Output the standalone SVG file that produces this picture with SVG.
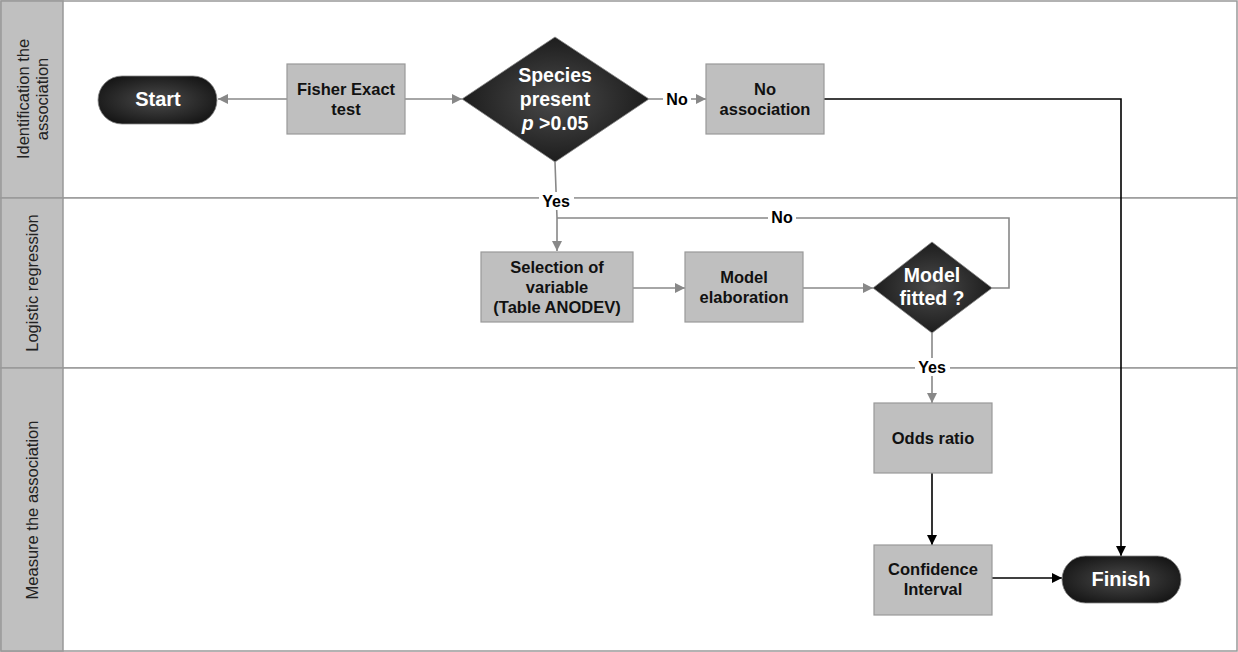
<svg xmlns="http://www.w3.org/2000/svg" width="1238" height="652" viewBox="0 0 1238 652">
<defs>
<radialGradient id="dk" cx="50%" cy="50%" r="60%">
<stop offset="0" stop-color="#4a4a4a"/>
<stop offset="1" stop-color="#141414"/>
</radialGradient>
<marker id="ag" viewBox="0 0 10 10" refX="10" refY="5" markerWidth="10" markerHeight="10" markerUnits="userSpaceOnUse" orient="auto"><path d="M0,0 L10,5 L0,10 z" fill="#888"/></marker>
<marker id="ab" viewBox="0 0 10 10" refX="10" refY="5" markerWidth="10" markerHeight="10" markerUnits="userSpaceOnUse" orient="auto"><path d="M0,0 L10,5 L0,10 z" fill="#000"/></marker>
<style>
.lane{fill:#fff;stroke:#999;stroke-width:1.5}
.hdr{fill:#c0c0c0;stroke:#999;stroke-width:1.5}
.ht{font-family:"Liberation Sans",Arial,sans-serif;font-size:16.5px;fill:#222;text-anchor:middle}
.box{fill:#bfbfbf;stroke:#999;stroke-width:1.2}
.bt{font-family:"Liberation Sans",Arial,sans-serif;font-size:16.5px;font-weight:bold;fill:#111;text-anchor:middle}
.dk{fill:url(#dk);stroke:#888;stroke-width:0.8}
.wt{font-family:"Liberation Sans",Arial,sans-serif;font-size:19.5px;font-weight:bold;fill:#fff;text-anchor:middle}
.wt2{font-family:"Liberation Sans",Arial,sans-serif;font-size:20px;font-weight:bold;fill:#fff;text-anchor:middle}
.cg{fill:none;stroke:#888;stroke-width:1.6}
.cb{fill:none;stroke:#000;stroke-width:1.6}
.lb{font-family:"Liberation Sans",Arial,sans-serif;font-size:16px;font-weight:bold;fill:#000;text-anchor:middle}
</style>
</defs>
<rect width="1238" height="652" fill="#fff"/>
<g id="lanes">
<rect class="lane" x="1" y="1" width="1236" height="197"/>
<rect class="lane" x="1" y="198" width="1236" height="170"/>
<rect class="lane" x="1" y="368" width="1236" height="283"/>
<rect class="hdr" x="1" y="1" width="62" height="197"/>
<rect class="hdr" x="1" y="198" width="62" height="170"/>
<rect class="hdr" x="1" y="368" width="62" height="283"/>
<text class="ht" transform="translate(32,99) rotate(-90)"><tspan x="0" y="-3">Identification the</tspan><tspan x="0" y="16">association</tspan></text>
<text class="ht" transform="translate(38,283) rotate(-90)" x="0" y="0">Logistic regression</text>
<text class="ht" transform="translate(38,510) rotate(-90)" x="0" y="0">Measure the association</text>
</g>
<g id="connectors">
<line class="cg" x1="287" y1="99" x2="218" y2="99" marker-end="url(#ag)"/>
<line class="cg" x1="405" y1="99" x2="462" y2="99" marker-end="url(#ag)"/>
<line class="cg" x1="649" y1="99" x2="706" y2="99" marker-end="url(#ag)"/>
<rect x="663" y="90" width="28" height="18" fill="#fff"/>
<text class="lb" x="677" y="105">No</text>
<polyline class="cb" points="824,99 1121,99 1121,556" marker-end="url(#ab)"/>
<polyline class="cg" points="555,162 557,218 557,251" marker-end="url(#ag)"/>
<rect x="539" y="192" width="35" height="18" fill="#fff"/>
<text class="lb" x="556" y="207">Yes</text>
<polyline class="cg" points="992,288 1009,288 1009,218 557,218"/>
<rect x="768" y="209" width="28" height="18" fill="#fff"/>
<text class="lb" x="782" y="223">No</text>
<line class="cg" x1="633" y1="288" x2="685" y2="288" marker-end="url(#ag)"/>
<line class="cg" x1="803" y1="288" x2="873" y2="288" marker-end="url(#ag)"/>
<line class="cg" x1="932" y1="333" x2="932" y2="403" marker-end="url(#ag)"/>
<rect x="915" y="358" width="35" height="18" fill="#fff"/>
<text class="lb" x="932" y="373">Yes</text>
<line class="cb" x1="932" y1="473" x2="932" y2="545" marker-end="url(#ab)"/>
<line class="cb" x1="992" y1="578" x2="1062" y2="578" marker-end="url(#ab)"/>
</g>
<g id="start">
<rect class="dk" x="98" y="76" width="119" height="48" rx="24"/>
<text class="wt2" x="158" y="106">Start</text>
</g>
<g id="fisher">
<rect class="box" x="287" y="64" width="118" height="70"/>
<text class="bt" x="346" y="95">Fisher Exact</text>
<text class="bt" x="346" y="115">test</text>
</g>
<g id="species">
<polygon class="dk" points="555,37 649,99 555,162 462,99"/>
<text class="wt" x="555" y="82">Species</text>
<text class="wt" x="555" y="106">present</text>
<text class="wt" x="555" y="130"><tspan font-style="italic">p</tspan> &gt;0.05</text>
</g>
<g id="noassoc">
<rect class="box" x="706" y="64" width="118" height="70"/>
<text class="bt" x="765" y="95">No</text>
<text class="bt" x="765" y="115">association</text>
</g>
<g id="selection">
<rect class="box" x="481" y="252" width="152" height="70"/>
<text class="bt" x="557" y="273">Selection of</text>
<text class="bt" x="557" y="293">variable</text>
<text class="bt" x="557" y="313">(Table ANODEV)</text>
</g>
<g id="elaboration">
<rect class="box" x="685" y="252" width="118" height="70"/>
<text class="bt" x="744" y="283">Model</text>
<text class="bt" x="744" y="303">elaboration</text>
</g>
<g id="fitted">
<polygon class="dk" points="932,242 992,288 932,333 873,288"/>
<text class="wt" x="932" y="282">Model</text>
<text class="wt" x="932" y="305">fitted ?</text>
</g>
<g id="odds">
<rect class="box" x="874" y="403" width="118" height="70"/>
<text class="bt" x="933" y="444">Odds ratio</text>
</g>
<g id="confidence">
<rect class="box" x="874" y="545" width="118" height="70"/>
<text class="bt" x="933" y="575">Confidence</text>
<text class="bt" x="933" y="595">Interval</text>
</g>
<g id="finish">
<rect class="dk" x="1062" y="556" width="119" height="47" rx="23.5"/>
<text class="wt2" x="1121" y="586">Finish</text>
</g>
</svg>
